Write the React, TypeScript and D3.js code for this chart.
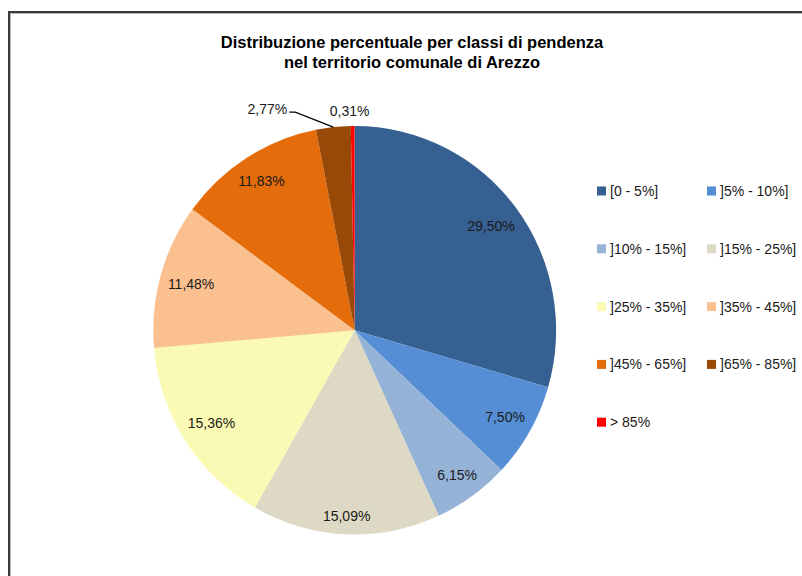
import React from "react";
import * as d3 from "d3";

const categories = ["[0 - 5%]", "]5% - 10%]", "]10% - 15%]", "]15% - 25%]", "]25% - 35%]", "]35% - 45%]", "]45% - 65%]", "]65% - 85%]", "> 85%"];
const values = [29.5, 7.5, 6.15, 15.09, 15.36, 11.48, 11.83, 2.77, 0.31];
const colors = ["#376092", "#558ED5", "#95B3D7", "#DDD9C4", "#FAFAB4", "#FAC090", "#E46C0A", "#984807", "#FF0000"];
const titleLines = ["Distribuzione percentuale per classi di pendenza", "nel territorio comunale di Arezzo"];

const W = 802, H = 576;
const cx = 354.7, cy = 330.2, R = 201.4, SY = 1.014;
const FONT = "'Liberation Sans', Arial, sans-serif";
const fmt = (v: number) => v.toFixed(2).replace(".", ",") + "%";

export default function App() {
  const pie = d3.pie<number>().sort(null).value((d) => d).startAngle(0).endAngle(2 * Math.PI);
  const arcs = pie(values);
  const arcGen = d3.arc<d3.PieArcDatum<number>>().innerRadius(0).outerRadius(R);
  const fontSize = 14;
  const charW = (s: string) => s.length * 7.3;

  const labels = arcs.map((a, i) => {
    const mid = (a.startAngle + a.endAngle) / 2;
    const s = Math.sin(mid), c = Math.cos(mid);
    const txt = fmt(values[i]);
    if (values[i] < 5) {
      return { i, txt, mid, outside: true };
    }
    const hw = charW(txt) / 2, hh = 9;
    const rr = R - 8 - Math.abs(s) * hw - Math.abs(c) * hh;
    return { i, txt, x: cx + rr * s, y: cy - rr * c * SY, outside: false, mid };
  });

  const legendX = [597, 707];
  const legendY0 = 191, legendDy = 57.8;

  return (
    <div style={{ position: "absolute", left: 0, top: 0 }}>
      <svg width={W} height={H} style={{ display: "block", background: "#fff" }}>
        <rect x={9} y={12} width={W + 20} height={H + 20} fill="#fff" stroke="#3a3a3a" strokeWidth={2} />
        <rect x={10.5} y={13.5} width={W + 20} height={H + 20} fill="none" stroke="#b8b8b8" strokeWidth={1} />
        {titleLines.map((t, i) => (
          <text key={i} x={412} y={47.5 + i * 20} textAnchor="middle" fontFamily={FONT} fontWeight="bold" fontSize={16.5} fill="#000">
            {t}
          </text>
        ))}
        <g transform={`translate(${cx},${cy}) scale(1,${SY})`}>
          {arcs.map((a, i) => (
            <path key={i} d={arcGen(a) || ""} fill={colors[i]} />
          ))}
        </g>
        {labels.map((l) => {
          if (!l.outside) {
            return (
              <text key={l.i} x={l.x} y={l.y} dy="0.35em" textAnchor="middle" fontFamily={FONT} fontSize={fontSize} fill="#1a1a1a">
                {l.txt}
              </text>
            );
          }
          const ex = cx + R * Math.sin(l.mid), ey = cy - R * SY * Math.cos(l.mid);
          if (l.i === 7) {
            const elx = ex - 38, ely = ey - 15;
            return (
              <g key={l.i}>
                <polyline points={`${ex},${ey} ${elx},${ely} ${elx - 6},${ely}`} fill="none" stroke="#000" strokeWidth={1.2} />
                <text x={elx - 8} y={ely - 3} dy="0.35em" textAnchor="end" fontFamily={FONT} fontSize={fontSize} fill="#1a1a1a">
                  {l.txt}
                </text>
              </g>
            );
          }
          const rr = R + 15;
          return (
            <text key={l.i} x={cx + rr * Math.sin(l.mid) - 3} y={cy - rr * SY * Math.cos(l.mid)} dy="0.35em" textAnchor="middle" fontFamily={FONT} fontSize={fontSize} fill="#1a1a1a">
              {l.txt}
            </text>
          );
        })}
        {categories.map((cat, i) => {
          const col = i % 2, row = Math.floor(i / 2);
          const x = legendX[col], y = legendY0 + row * legendDy;
          return (
            <g key={i}>
              <rect x={x} y={y - 4.5} width={9} height={9} fill={colors[i]} />
              <text x={x + 13} y={y} dy="0.35em" fontFamily={FONT} fontSize={fontSize} fill="#1a1a1a">
                {cat}
              </text>
            </g>
          );
        })}
      </svg>
    </div>
  );
}
